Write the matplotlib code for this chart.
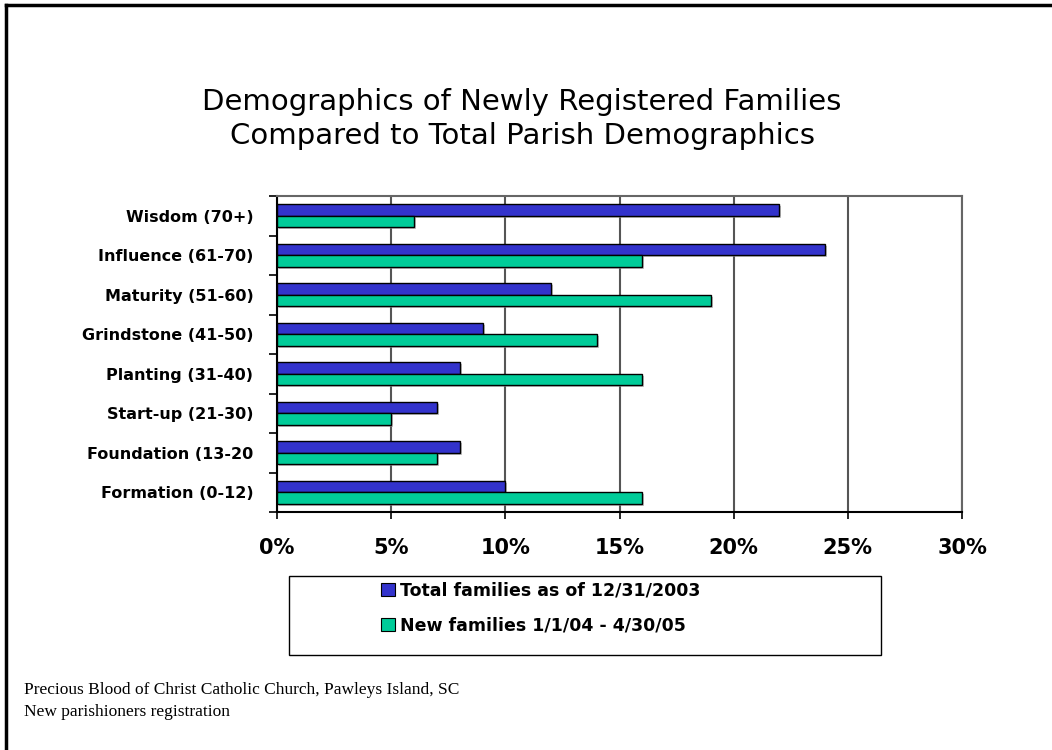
import matplotlib
matplotlib.use("Agg")
import matplotlib.pyplot as plt
import numpy as np
from matplotlib.patches import Patch, Rectangle
from matplotlib.lines import Line2D
import matplotlib.patheffects as pe

categories = ["Wisdom (70+)", "Influence (61-70)", "Maturity (51-60)", "Grindstone (41-50)",
              "Planting (31-40)", "Start-up (21-30)", "Foundation (13-20", "Formation (0-12)"]
total_families = [22, 24, 12, 9, 8, 7, 8, 10]
new_families = [6, 16, 19, 14, 16, 5, 7, 16]
series_names = ["Total families as of 12/31/2003", "New families 1/1/04 - 4/30/05"]
xticks = [0, 5, 10, 15, 20, 25, 30]
xticklabels = ["0%", "5%", "10%", "15%", "20%", "25%", "30%"]

blue = "#3333CC"
green = "#00CC99"

fig = plt.figure(figsize=(10.52, 7.5), dpi=100)
W, H = 1052, 750

# page frame (top and left)
fig.add_artist(Line2D([6/W, 6/W], [0, 1 - 5/H], transform=fig.transFigure, color="black", lw=2.5))
fig.add_artist(Line2D([6/W, 1], [1 - 5/H, 1 - 5/H], transform=fig.transFigure, color="black", lw=2.5))

ax = fig.add_axes([277/W, 1 - 512/H, (962 - 277)/W, (512 - 196)/H])

y = np.arange(len(categories))
h = 0.29
shadow = [pe.SimplePatchShadow(offset=(1.5, -1.5), shadow_rgbFace="#999999", alpha=0.6), pe.Normal()]
b1 = ax.barh(y - h/2, total_families, height=h, color=blue, edgecolor="black", linewidth=1.0, zorder=3)
b2 = ax.barh(y + h/2, new_families, height=h, color=green, edgecolor="black", linewidth=1.0, zorder=3)
for b in list(b1) + list(b2):
    b.set_path_effects(shadow)

ax.set_xlim(0, 30)
ax.set_ylim(len(categories) - 0.5, -0.5)
ax.set_xticks(xticks)
ax.set_xticklabels(xticklabels, fontsize=15, fontweight="bold", family="DejaVu Sans")
ax.set_yticks(np.arange(len(categories) + 1) - 0.5)
ax.set_yticklabels([])
ax.set_yticks(y, minor=True)
ax.set_yticklabels(categories, minor=True, fontsize=11.5, fontweight="bold")
ax.tick_params(axis="y", which="minor", length=0, pad=17)
ax.tick_params(axis="y", which="major", length=6, width=1.2, direction="out")
ax.tick_params(axis="x", which="major", length=5, width=1.2, direction="out", pad=14)

ax.grid(axis="x", color="#555555", linewidth=1.5, zorder=0)
ax.set_axisbelow(True)
for s in ["top", "right"]:
    ax.spines[s].set_color("#666666")
    ax.spines[s].set_linewidth(1.5)
for s in ["left", "bottom"]:
    ax.spines[s].set_color("black")
    ax.spines[s].set_linewidth(1.5)

# title
fig.text(522/W, 1 - 119/H, "Demographics of Newly Registered Families\nCompared to Total Parish Demographics",
         ha="center", va="center", fontsize=21, linespacing=1.3)

# legend box
fig.add_artist(Rectangle((289/W, 1 - 655/H), (881 - 289)/W, (655 - 576)/H, transform=fig.transFigure,
                         facecolor="white", edgecolor="black", linewidth=1.0))
handles = [Patch(facecolor=blue, edgecolor="black", linewidth=0.8),
           Patch(facecolor=green, edgecolor="black", linewidth=0.8)]
leg = fig.legend(handles, series_names, loc="center", bbox_to_anchor=(541/W, 1 - 608/H),
                 frameon=False, prop={"size": 12.5, "weight": "bold"},
                 handlelength=0.8, handleheight=0.8, handletextpad=0.3, labelspacing=0.95)

fig.text(24/W, 1 - 690/H, "Precious Blood of Christ Catholic Church, Pawleys Island, SC",
         ha="left", va="center", fontsize=12.5, family="Liberation Serif")
fig.text(24/W, 1 - 712/H, "New parishioners registration",
         ha="left", va="center", fontsize=12.5, family="Liberation Serif")

fig.savefig("out.png", dpi=100)
